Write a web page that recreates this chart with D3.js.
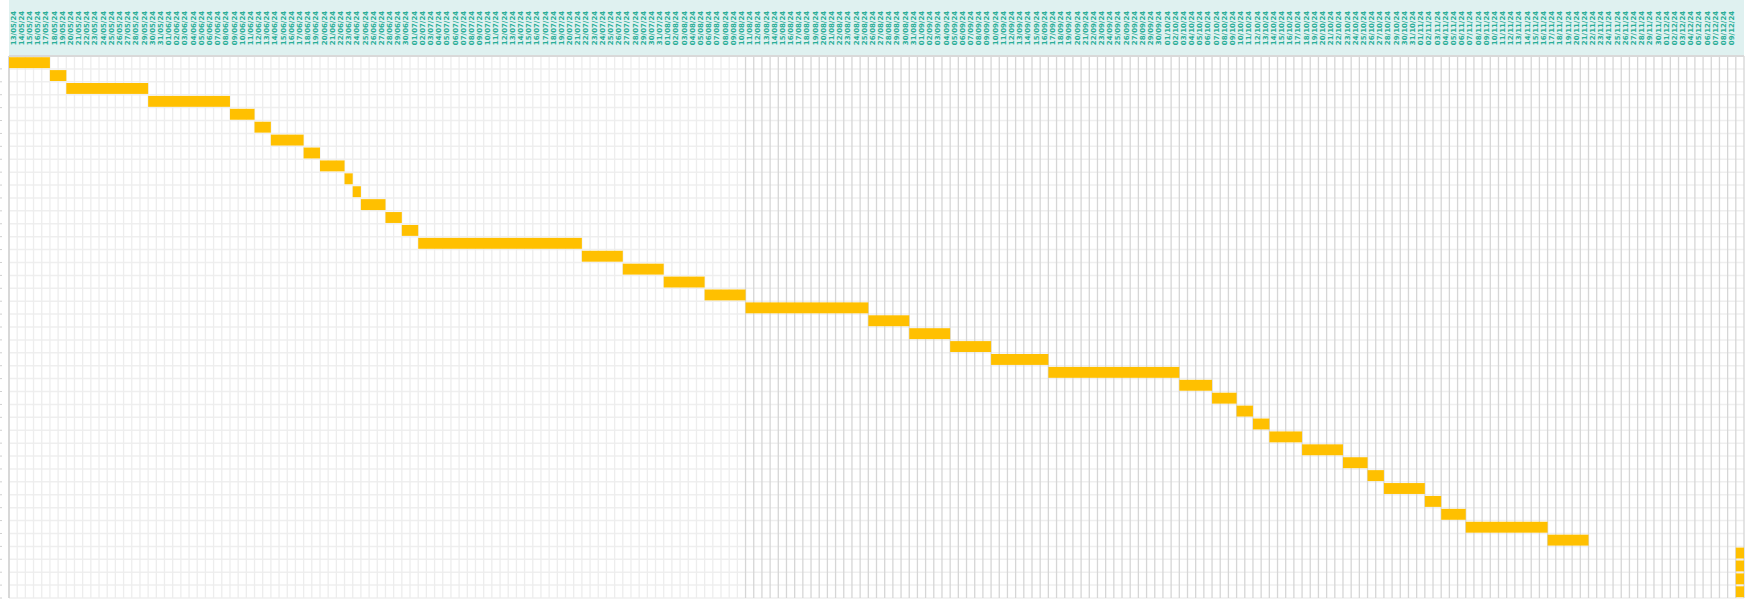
<!DOCTYPE html>
<meta charset="utf-8">
<style>
  body { margin: 0; background: #fff; }
</style>
<script src="https://d3js.org/d3.v7.min.js"></script>
<svg id="gantt"></svg>
<script>

// timeline shown in the header (one column per day)
var firstDay = "2024-05-13",
    lastDay = "2024-12-10"
var darkFrom = "2024-08-11"

// tasks: first and last day of each bar
var taskStart = [
  "2024-05-13", "2024-05-18", "2024-05-20", "2024-05-30", "2024-06-09", "2024-06-12",
  "2024-06-14", "2024-06-18", "2024-06-20", "2024-06-23", "2024-06-24", "2024-06-25",
  "2024-06-28", "2024-06-30", "2024-07-02", "2024-07-22", "2024-07-27", "2024-08-01",
  "2024-08-06", "2024-08-11", "2024-08-26", "2024-08-31", "2024-09-05", "2024-09-10",
  "2024-09-17", "2024-10-03", "2024-10-07", "2024-10-10", "2024-10-12", "2024-10-14",
  "2024-10-18", "2024-10-23", "2024-10-26", "2024-10-28", "2024-11-02", "2024-11-04",
  "2024-11-07", "2024-11-17", "2024-12-10", "2024-12-10", "2024-12-10", "2024-12-10"
]
var taskEnd = [
  "2024-05-17", "2024-05-19", "2024-05-29", "2024-06-08", "2024-06-11", "2024-06-13",
  "2024-06-17", "2024-06-19", "2024-06-22", "2024-06-23", "2024-06-24", "2024-06-27",
  "2024-06-29", "2024-07-01", "2024-07-21", "2024-07-26", "2024-07-31", "2024-08-05",
  "2024-08-10", "2024-08-25", "2024-08-30", "2024-09-04", "2024-09-09", "2024-09-16",
  "2024-10-02", "2024-10-06", "2024-10-09", "2024-10-11", "2024-10-13", "2024-10-17",
  "2024-10-22", "2024-10-25", "2024-10-27", "2024-11-01", "2024-11-03", "2024-11-06",
  "2024-11-16", "2024-11-21", "2024-12-10", "2024-12-10", "2024-12-10", "2024-12-10"
]
var taskIds = taskStart.map(function (d, i) { return "T" + (i + 1) })

var width = 1753, height = 601
var left = 9, right = 1744, headTop = 0, headBottom = 56, bottom = 598

var parse = d3.utcParse("%Y-%m-%d")
var fmt = d3.utcFormat("%d/%m/%y")

var svg = d3.select("#gantt")
  .attr("width", width)
  .attr("height", height)
  .style("font-family", "'DejaVu Sans', Verdana, sans-serif")

var x = d3.scaleUtc()
  .domain([parse(firstDay), d3.utcDay.offset(parse(lastDay), 1)])
  .range([left, right])

var y = d3.scaleBand()
  .domain(taskIds)
  .range([headBottom, bottom])

var days = d3.utcDay.range(parse(firstDay), d3.utcDay.offset(parse(lastDay), 1))
var boundaries = d3.utcDay.range(parse(firstDay), d3.utcDay.offset(parse(lastDay), 2))

// header band
svg.append("rect")
  .attr("x", left).attr("y", headTop)
  .attr("width", right - left).attr("height", headBottom - headTop)
  .attr("fill", "#dff1f0")

// day labels (last column stays unlabelled, as in the source)
svg.append("g")
  .selectAll("text")
  .data(days.slice(0, days.length - 1))
  .enter()
  .append("text")
    .attr("transform", function (d) {
      var cx = x(d) + (x(d3.utcDay.offset(d, 1)) - x(d)) / 2
      return "translate(" + (cx + 2.5) + ",28) rotate(-90)"
    })
    .attr("text-anchor", "middle")
    .attr("font-size", 7)
    .attr("font-weight", "bold")
    .attr("fill", "#2aae98")
    .text(function (d) { return fmt(d) })

// horizontal grid
var rowLines = taskIds.map(function (t) { return y(t) }).concat([bottom])
svg.append("g")
  .selectAll("line")
  .data(rowLines)
  .enter()
  .append("line")
    .attr("x1", left).attr("x2", right)
    .attr("y1", function (d) { return d }).attr("y2", function (d) { return d })
    .attr("stroke", "#efefef")
    .attr("stroke-width", 1.5)

// small ticks at the far left
svg.append("g")
  .selectAll("line")
  .data(rowLines.slice(1))
  .enter()
  .append("line")
    .attr("x1", 0).attr("x2", 2)
    .attr("y1", function (d) { return d }).attr("y2", function (d) { return d })
    .attr("stroke", "#d0d0d0")

// vertical grid, darker from 11/08
svg.append("g")
  .selectAll("line")
  .data(boundaries)
  .enter()
  .append("line")
    .attr("x1", function (d) { return x(d) }).attr("x2", function (d) { return x(d) })
    .attr("y1", headBottom).attr("y2", bottom)
    .attr("stroke", function (d) { return d >= parse(darkFrom) ? "#d6d6d6" : "#ededed" })
    .attr("stroke-width", 1.3)

// left border and header underline
svg.append("line")
  .attr("x1", left).attr("x2", left)
  .attr("y1", headBottom).attr("y2", bottom)
  .attr("stroke", "#cfcfcf").attr("stroke-width", 1.5)
svg.append("line")
  .attr("x1", left).attr("x2", right)
  .attr("y1", headBottom).attr("y2", headBottom)
  .attr("stroke", "#d9d9d9").attr("stroke-width", 2)

// bars
svg.append("g")
  .selectAll("rect")
  .data(taskIds)
  .enter()
  .append("rect")
    .attr("x", function (d, i) { return x(parse(taskStart[i])) })
    .attr("width", function (d, i) {
      return x(d3.utcDay.offset(parse(taskEnd[i]), 1)) - x(parse(taskStart[i]))
    })
    .attr("y", function (d) { return y(d) + 1.2 })
    .attr("height", y.bandwidth() - 2)
    .attr("fill", "#ffc000")

</script>
